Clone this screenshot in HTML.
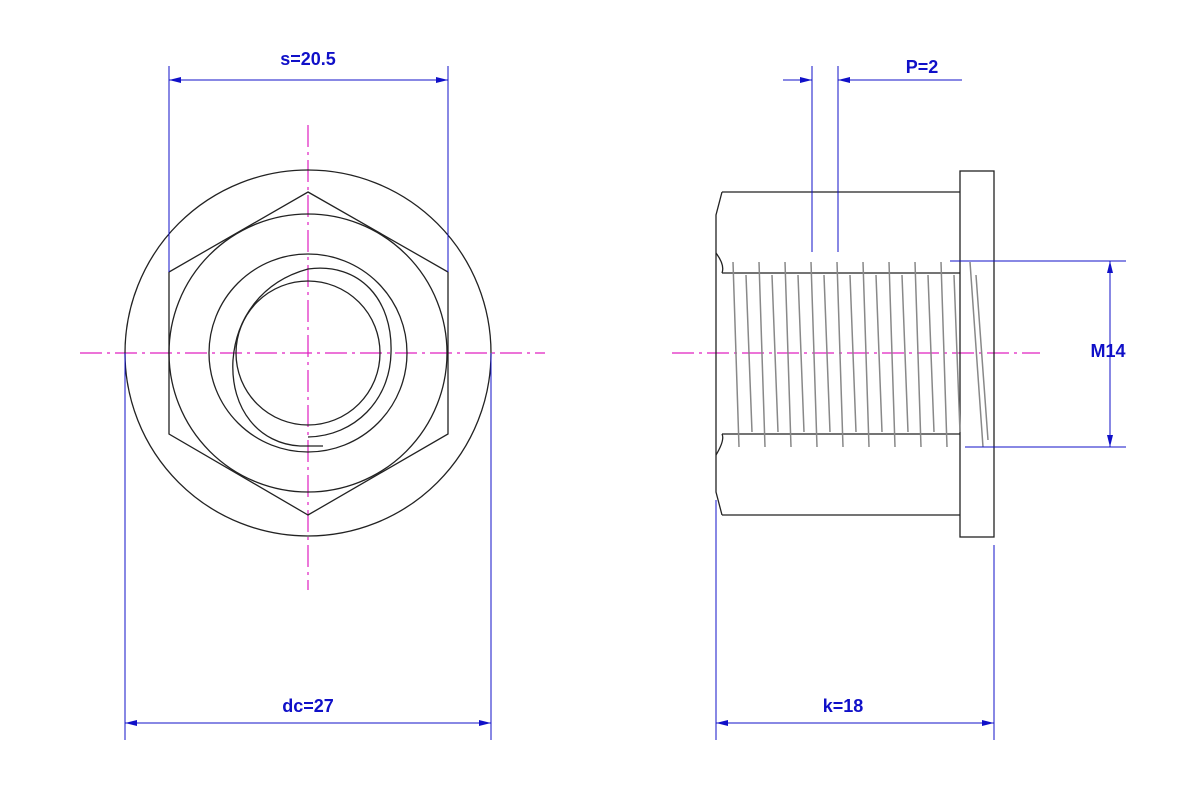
<!DOCTYPE html>
<html><head><style>body{margin:0;background:#fff}svg{display:block}text{font-family:"Liberation Sans",sans-serif;font-size:18px;font-weight:bold;fill:#1010c8}</style></head><body>
<svg width="1200" height="800" viewBox="0 0 1200 800" xmlns="http://www.w3.org/2000/svg">
<defs><marker id="a" viewBox="0 0 12 6" refX="12" refY="3" markerWidth="12" markerHeight="6" orient="auto-start-reverse"><path d="M0,0L12,3L0,6z" fill="#1010c8"/></marker></defs>
<g fill="none" stroke="#e020c0" stroke-width="1.2" stroke-dasharray="22,5,3,5">
<line x1="80" y1="353" x2="545" y2="353"/><line x1="308" y1="125" x2="308" y2="590"/>
<line x1="672" y1="353" x2="1040" y2="353"/></g>
<g fill="none" stroke="#222" stroke-width="1.3">
<circle cx="308" cy="353" r="183"/><circle cx="308" cy="353" r="139"/>
<polygon points="308,192 448,272 448,434 308,515 169,434 169,272"/>
<circle cx="308" cy="353" r="99"/><circle cx="308" cy="353" r="72"/>
<path d="M323,446 L300,446 C260,444 230,410 233,360 C236,320 260,282 308,269 C360,262 393,300 391,353 C390,400 355,436 308,437"/>
<path d="M722,192 L960,192 M722,515 L960,515 M722,273 L960,273 M722,434 L960,434"/>
<rect x="960" y="171" width="34" height="366"/>
<path d="M722,192 L716,215 L716,492 L722,515"/>
<path d="M716,253 Q725,265 722,273 M716,455 Q725,440 722,434"/>
</g>
<g fill="none" stroke="#888" stroke-width="1.5">
<path d="M733,262 L739,447 M759,262 L765,447 M785,262 L791,447 M811,262 L817,447 M837,262 L843,447 M863,262 L869,447 M889,262 L895,447 M915,262 L921,447 M941,262 L947,447 M970,262 L983,447"/>
<path d="M746,275 L752,432 M772,275 L778,432 M798,275 L804,432 M824,275 L830,432 M850,275 L856,432 M876,275 L882,432 M902,275 L908,432 M928,275 L934,432 M954,275 L960,432 M976,275 L988,440"/>
</g>
<g stroke="#1010c8" stroke-width="1" fill="none">
<line x1="169" y1="66" x2="169" y2="272"/><line x1="448" y1="66" x2="448" y2="272"/>
<line x1="169" y1="80" x2="448" y2="80" marker-start="url(#a)" marker-end="url(#a)"/>
<line x1="125" y1="353" x2="125" y2="740"/><line x1="491" y1="353" x2="491" y2="740"/>
<line x1="125" y1="723" x2="491" y2="723" marker-start="url(#a)" marker-end="url(#a)"/>
<line x1="716" y1="500" x2="716" y2="740"/><line x1="994" y1="545" x2="994" y2="740"/>
<line x1="716" y1="723" x2="994" y2="723" marker-start="url(#a)" marker-end="url(#a)"/>
<line x1="812" y1="66" x2="812" y2="252"/><line x1="838" y1="66" x2="838" y2="252"/>
<line x1="783" y1="80" x2="812" y2="80" marker-end="url(#a)"/>
<line x1="962" y1="80" x2="838" y2="80" marker-end="url(#a)"/>
<line x1="950" y1="261" x2="1126" y2="261"/><line x1="965" y1="447" x2="1126" y2="447"/>
<line x1="1110" y1="261" x2="1110" y2="447" marker-start="url(#a)" marker-end="url(#a)"/>
</g>
<text x="308" y="65" text-anchor="middle">s=20.5</text>
<text x="308" y="712" text-anchor="middle">dc=27</text>
<text x="843" y="712" text-anchor="middle">k=18</text>
<text x="922" y="73" text-anchor="middle">P=2</text>
<text x="1108" y="357" text-anchor="middle">M14</text>
</svg></body></html>
